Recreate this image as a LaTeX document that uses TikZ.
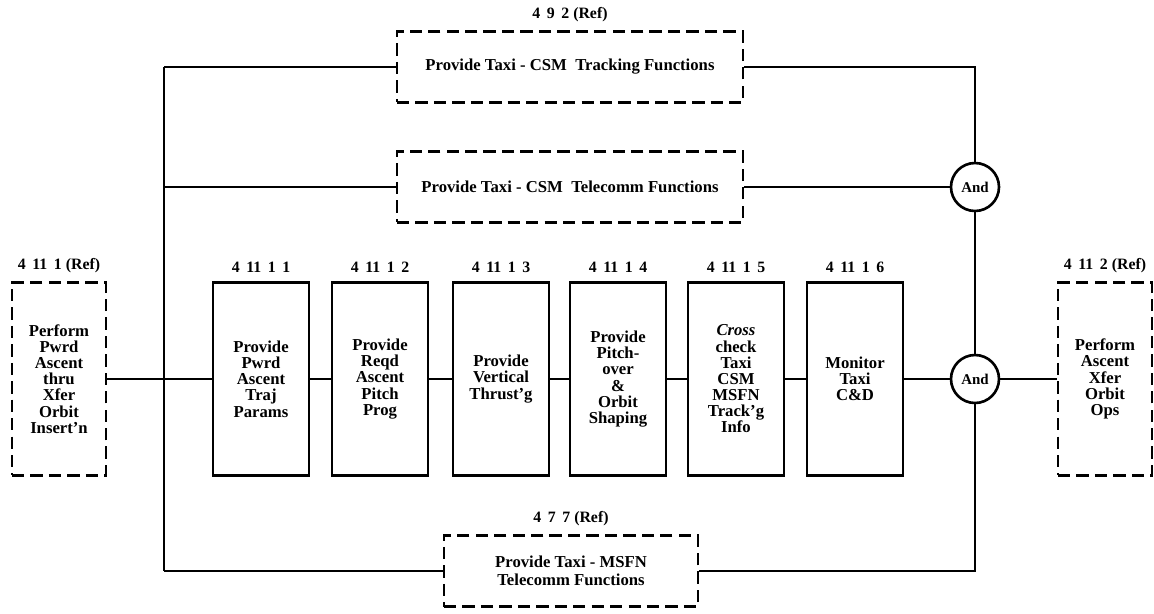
\documentclass[tikz,border=0pt]{standalone}
\usepackage{fontspec}
\setmainfont{Liberation Serif}
\usetikzlibrary{positioning}

\begin{document}
\begin{tikzpicture}[x=0.02cm, y=-0.02cm, line width=1.5pt, func/.style={draw, minimum width=1.92cm, minimum height=3.86cm, inner sep=1pt, align=center, font=\bfseries\fontsize{9.5}{9.2}\selectfont}, reffunc/.style={func, minimum width=1.88cm, dash pattern=on 7pt off 3.5pt}, wide/.style={draw, dash pattern=on 7pt off 3.5pt, minimum width=6.92cm, minimum height=1.42cm, align=center, font=\bfseries\fontsize{9.5}{10.5}\selectfont}, gate/.style={circle, draw, minimum size=0.96cm, inner sep=0pt, font=\bfseries\fontsize{8.5}{9}\selectfont}, num/.style={font=\bfseries\fontsize{9}{9}\selectfont, inner sep=1pt}]
\useasboundingbox (0,0) rectangle (1154,613);
\node[reffunc] (pwrd) at (59,379) {Perform\\Pwrd\\Ascent\\thru\\Xfer\\Orbit\\Insert'n};
\node[func] (traj) at (261,379) {Provide\\Pwrd\\Ascent\\Traj\\Params};
\node[func] (pitch) at (380,379) {Provide\\Reqd\\Ascent\\Pitch\\Prog};
\node[func] (vert) at (501,379) {Provide\\Vertical\\Thrust'g};
\node[func] (shape) at (618,379) {Provide\\Pitch-\\over\\\&\\Orbit\\Shaping};
\node[func] (xcheck) at (736,379) {\textit{Cross}\\check\\Taxi\\CSM\\MSFN\\Track'g\\Info};
\node[func] (mon) at (855,379) {Monitor\\Taxi\\C\&D};
\node[reffunc] (ops) at (1105,379) {Perform\\Ascent\\Xfer\\Orbit\\Ops};
\node[num, above=3pt of pwrd] (pwrdnum) {4\,\ 11\,\ 1 (Ref)};
\node[num, above=3pt of traj] (trajnum) {4\,\ 11\,\ 1\,\ 1};
\node[num, above=3pt of pitch] (pitchnum) {4\,\ 11\,\ 1\,\ 2};
\node[num, above=3pt of vert] (vertnum) {4\,\ 11\,\ 1\,\ 3};
\node[num, above=3pt of shape] (shapenum) {4\,\ 11\,\ 1\,\ 4};
\node[num, above=3pt of xcheck] (xchecknum) {4\,\ 11\,\ 1\,\ 5};
\node[num, above=3pt of mon] (monnum) {4\,\ 11\,\ 1\,\ 6};
\node[num, above=3pt of ops] (opsnum) {4\,\ 11\,\ 2 (Ref)};
\node[wide] (track) at (570,67) {Provide Taxi - CSM\ \ Tracking Functions};
\node[wide] (tele) at (570,187) {Provide Taxi - CSM\ \ Telecomm Functions};
\node[wide, minimum width=5.08cm] (msfn) at (571,571) {Provide Taxi - MSFN\\Telecomm Functions};
\node[num, above=3pt of track] (tracknum) {4\,\ 9\,\ 2 (Ref)};
\node[num, above=3pt of msfn] (msfnnum) {4\,\ 7\,\ 7 (Ref)};
\node[gate] (andtop) at (975,187) {And};
\node[gate] (andmid) at (975,379) {And};
\coordinate (bustop) at (164,67); \coordinate (busbot) at (164,571);
\draw (bustop) -- (busbot);
\draw (bustop) -- (track); \draw (bustop |- tele) -- (tele); \draw (busbot) -- (msfn);
\draw (pwrd) -- (traj) -- (pitch) -- (vert) -- (shape) -- (xcheck) -- (mon) -- (andmid) -- (ops);
\draw (track) -| (andtop); \draw (tele) -- (andtop); \draw (andtop) -- (andmid); \draw (msfn) -| (andmid);
\end{tikzpicture}
\end{document}
